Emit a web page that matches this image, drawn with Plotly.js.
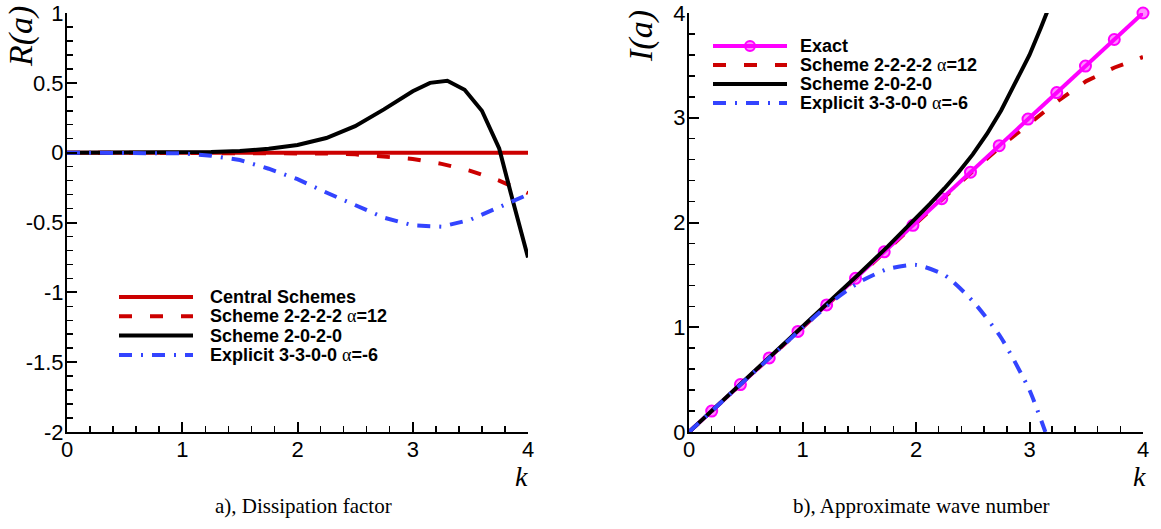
<!DOCTYPE html>
<html>
<head>
<meta charset="utf-8">
<script src="https://cdn.plot.ly/plotly-3.0.1.min.js"></script>
<style>html,body{margin:0;padding:0;background:#fff;}#chart{width:1161px;height:529px;}</style>
</head>
<body>
<div id="chart"></div>
<script>
// ---------- data: a) dissipation factor R(a) ----------
const kCentral = [0, 1, 2, 3, 4];
const rCentral = [0, 0, 0, 0, 0];

const kR2222 = [0, 0.5, 1.0, 1.5, 2.0, 2.25, 2.5, 2.75, 3.0, 3.25, 3.5, 3.75, 4.0];
const rR2222 = [0, 0, 0, 0, -0.002, -0.006, -0.012, -0.025, -0.045, -0.08, -0.13, -0.2, -0.29];

const kR2020 = [0, 0.5, 1.0, 1.25, 1.5, 1.75, 2.0, 2.25, 2.5, 2.75, 3.0, 3.15, 3.3, 3.45, 3.6, 3.75, 3.87, 4.0];
const rR2020 = [0, 0, 0.001, 0.004, 0.012, 0.028, 0.055, 0.105, 0.19, 0.31, 0.44, 0.50, 0.515, 0.45, 0.30, 0.03, -0.35, -0.75];

const kR3300 = [0, 0.5, 1.0, 1.25, 1.5, 1.75, 2.0, 2.25, 2.5, 2.75, 3.0, 3.25, 3.5, 3.75, 4.0];
const rR3300 = [0, 0, -0.005, -0.022, -0.053, -0.115, -0.19, -0.285, -0.375, -0.465, -0.52, -0.53, -0.48, -0.39, -0.30];

// ---------- data: b) approximate wave number I(a) ----------
const kExactLine = [0, 4];
const iExactLine = [0, 4];
const kExactPts = [0.2, 0.453, 0.707, 0.96, 1.213, 1.467, 1.72, 1.973, 2.227, 2.48, 2.733, 2.987, 3.24, 3.493, 3.747, 4.0];
const iExactPts = [0.2, 0.453, 0.707, 0.96, 1.213, 1.467, 1.72, 1.973, 2.227, 2.48, 2.733, 2.987, 3.24, 3.493, 3.747, 4.0];

const kI2222 = [0, 0.5, 1.0, 1.5, 2.0, 2.25, 2.5, 2.75, 3.0, 3.25, 3.5, 3.75, 4.0];
const iI2222 = [0, 0.5, 1.0, 1.5, 2.0, 2.245, 2.49, 2.73, 2.95, 3.16, 3.35, 3.48, 3.58];

const kI2020 = [0, 0.5, 1.0, 1.5, 1.75, 2.0, 2.125, 2.25, 2.375, 2.5, 2.625, 2.75, 2.875, 3.0, 3.1, 3.17];
const iI2020 = [0, 0.5, 1.0, 1.51, 1.77, 2.04, 2.18, 2.325, 2.48, 2.65, 2.845, 3.07, 3.33, 3.6, 3.86, 4.05];

const kI3300 = [0, 0.5, 1.0, 1.25, 1.5, 1.75, 2.0, 2.25, 2.5, 2.75, 3.0, 3.14];
const iI3300 = [0, 0.5, 0.995, 1.235, 1.43, 1.555, 1.595, 1.5, 1.25, 0.9, 0.4, 0.0];

// ---------- labels ----------
const xTickVals = [0, 1, 2, 3, 4];
const xTickText = ['0', '1', '2', '3', '4'];
const yTickValsR = [-2, -1.5, -1, -0.5, 0, 0.5, 1];
const yTickTextR = ['-2', '-1.5', '-1', '-0.5', '0', '0.5', '1'];
const yTickValsI = [0, 1, 2, 3, 4];
const yTickTextI = ['0', '1', '2', '3', '4'];

const ALPHA = '<span style="font-family:\'Liberation Serif\'">α</span>';
const nameCentral = '<b>Central Schemes</b>';
const name2222 = '<b>Scheme 2-2-2-2 </b>' + ALPHA + '<b>=12</b>';
const name2020 = '<b>Scheme 2-0-2-0</b>';
const name3300 = '<b>Explicit 3-3-0-0 </b>' + ALPHA + '<b>=-6</b>';
const nameExact = '<b>Exact</b>';

// ---------- styles ----------
const W = 1161, H = 529;
const px = v => v / W;
const py = v => 1 - v / H;
const RED = '#cc0000', BLUE = '#3344ff', MAG = '#ff00ff', BLK = '#000000';
const styCentral = {color: RED, width: 4, dash: 'solid'};
const sty2222 = {color: RED, width: 4, dash: '13px,18px'};
const sty2020 = {color: BLK, width: 4, dash: 'solid'};
const sty3300 = {color: BLUE, width: 4, dash: '13px,9px,2px,9px'};
const styExact = {color: MAG, width: 4, dash: 'solid'};
const exactMarker = {symbol: 'circle', size: 11, color: 'rgba(255,0,255,0.45)', line: {color: MAG, width: 2}};

const traces = [
  {x: kCentral, y: rCentral, xaxis: 'x', yaxis: 'y', mode: 'lines', line: styCentral, name: nameCentral},
  {x: kR2222, y: rR2222, xaxis: 'x', yaxis: 'y', mode: 'lines', line: sty2222, name: name2222},
  {x: kR2020, y: rR2020, xaxis: 'x', yaxis: 'y', mode: 'lines', line: sty2020, name: name2020},
  {x: kR3300, y: rR3300, xaxis: 'x', yaxis: 'y', mode: 'lines', line: sty3300, name: name3300},

  {x: kI2222, y: iI2222, xaxis: 'x2', yaxis: 'y2', mode: 'lines', line: sty2222, name: name2222},
  {x: kExactLine, y: iExactLine, xaxis: 'x2', yaxis: 'y2', mode: 'lines', line: styExact, name: nameExact},
  {x: kExactPts, y: iExactPts, xaxis: 'x2', yaxis: 'y2', mode: 'markers', marker: exactMarker, cliponaxis: false, name: nameExact},
  {x: kI2020, y: iI2020, xaxis: 'x2', yaxis: 'y2', mode: 'lines', line: sty2020, name: name2020},
  {x: kI3300, y: iI3300, xaxis: 'x2', yaxis: 'y2', mode: 'lines', line: Object.assign({shape: 'spline', smoothing: 0.6}, sty3300), name: name3300}
].map(t => Object.assign({showlegend: false, hoverinfo: 'skip'}, t));

// ---------- axes ----------
const tickFont = {family: 'Liberation Sans, Arial, sans-serif', size: 22, color: '#000'};
function axis(extra) {
  return Object.assign({
    showline: true, linecolor: '#000', linewidth: 2,
    ticks: 'inside', ticklen: 10, tickwidth: 2, tickcolor: '#000',
    tickmode: 'array', tickfont: tickFont,
    showgrid: false, zeroline: false, fixedrange: true
  }, extra);
}
const yDom = [py(432), py(13)];
const minorX = {dtick: 0.2, tick0: 0, ticks: 'inside', ticklen: 6, tickwidth: 1.5, tickcolor: '#000', showgrid: false};

// ---------- custom legends (long line samples like the reference) ----------
const shapes = [];
const annotations = [];
const legFont = {family: 'Liberation Sans, Arial, sans-serif', size: 18, color: '#000'};
function legendRow(x0, x1, xt, y, sty, text, marker) {
  shapes.push({type: 'line', xref: 'paper', yref: 'paper', x0: px(x0), x1: px(x1), y0: py(y), y1: py(y),
    line: {color: sty.color, width: sty.width, dash: sty.dash}});
  if (marker) {
    const cx = (x0 + x1) / 2, r = 5;
    shapes.push({type: 'circle', xref: 'paper', yref: 'paper', x0: px(cx - r), x1: px(cx + r), y0: py(y + r), y1: py(y - r),
      fillcolor: marker.color, line: {color: marker.line.color, width: marker.line.width}});
  }
  annotations.push({xref: 'paper', yref: 'paper', x: px(xt), y: py(y), xanchor: 'left', yanchor: 'middle',
    text: text, showarrow: false, font: legFont});
}
const leftLegend = [[styCentral, nameCentral], [sty2222, name2222], [sty2020, name2020], [sty3300, name3300]];
const leftRowsY = [297, 316.3, 335.6, 355];
leftLegend.forEach((e, i) => legendRow(119, 193, 208, leftRowsY[i], e[0], e[1]));
const rightLegend = [[styExact, nameExact, exactMarker], [sty2222, name2222], [sty2020, name2020], [sty3300, name3300]];
const rightRowsY = [46, 65, 84, 103];
rightLegend.forEach((e, i) => legendRow(713, 787, 798, rightRowsY[i], e[0], e[1], e[2]));

// ---------- titles ----------
const serif = 'Liberation Serif, Times New Roman, serif';
annotations.push(
  {xref: 'paper', yref: 'paper', x: px(21), y: py(37), text: 'R(a)', textangle: -90, showarrow: false,
   xanchor: 'center', yanchor: 'middle', font: {family: serif, size: 34, style: 'italic', color: '#000'}},
  {xref: 'paper', yref: 'paper', x: px(641), y: py(36), text: 'I(a)', textangle: -90, showarrow: false,
   xanchor: 'center', yanchor: 'middle', font: {family: serif, size: 34, style: 'italic', color: '#000'}},
  {xref: 'paper', yref: 'paper', x: px(521), y: py(476), text: 'k', showarrow: false,
   xanchor: 'center', yanchor: 'middle', font: {family: serif, size: 28, style: 'italic', color: '#000'}},
  {xref: 'paper', yref: 'paper', x: px(1139), y: py(476), text: 'k', showarrow: false,
   xanchor: 'center', yanchor: 'middle', font: {family: serif, size: 28, style: 'italic', color: '#000'}},
  {xref: 'paper', yref: 'paper', x: px(303), y: py(506), text: 'a), Dissipation factor', showarrow: false,
   xanchor: 'center', yanchor: 'middle', font: {family: serif, size: 21, color: '#000'}},
  {xref: 'paper', yref: 'paper', x: px(921), y: py(506), text: 'b), Approximate wave number', showarrow: false,
   xanchor: 'center', yanchor: 'middle', font: {family: serif, size: 21, color: '#000'}}
);

const layout = {
  width: W, height: H,
  margin: {l: 0, r: 0, t: 0, b: 0, pad: 0},
  paper_bgcolor: '#fff', plot_bgcolor: '#fff',
  showlegend: false,
  xaxis: axis({domain: [px(67), px(528)], range: [0, 4], anchor: 'y', tickvals: xTickVals, ticktext: xTickText,
    ticklabelstandoff: -3, minor: minorX}),
  yaxis: axis({domain: yDom, range: [-2, 1], anchor: 'x', tickvals: yTickValsR, ticktext: yTickTextR,
    ticklabelstandoff: -3,
    minor: {dtick: 0.1, tick0: 0, ticks: 'inside', ticklen: 6, tickwidth: 1.5, tickcolor: '#000', showgrid: false}}),
  xaxis2: axis({domain: [px(689), px(1143)], range: [0, 4], anchor: 'y2', tickvals: xTickVals, ticktext: xTickText,
    ticklabelstandoff: -3, minor: minorX}),
  yaxis2: axis({domain: yDom, range: [0, 4], anchor: 'x2', tickvals: yTickValsI, ticktext: yTickTextI,
    ticklabelstandoff: -3,
    minor: {dtick: 0.2, tick0: 0, ticks: 'inside', ticklen: 6, tickwidth: 1.5, tickcolor: '#000', showgrid: false}}),
  shapes: shapes,
  annotations: annotations
};

Plotly.newPlot('chart', traces, layout, {staticPlot: true, displayModeBar: false});
</script>
</body>
</html>
